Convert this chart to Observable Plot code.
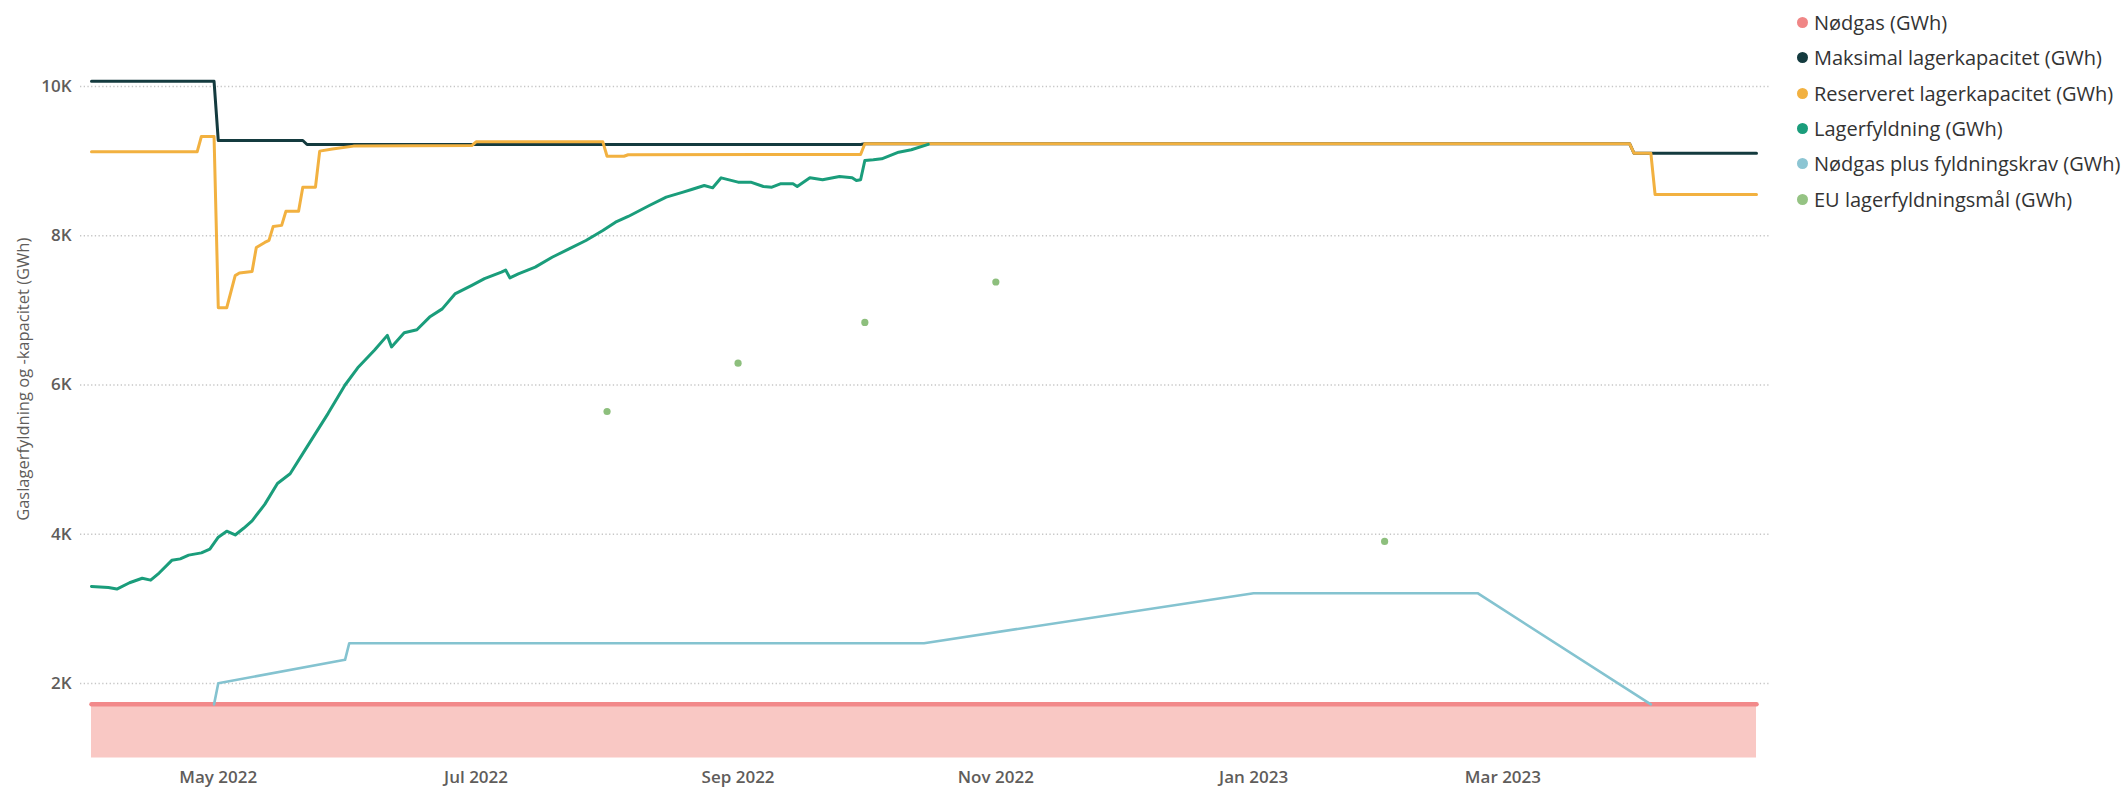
<!DOCTYPE html>
<html><head><meta charset="utf-8">
<script src="https://cdn.jsdelivr.net/npm/d3@7"></script>
<script src="https://cdn.jsdelivr.net/npm/@observablehq/plot@0.6"></script>
<style>
html,body{margin:0;padding:0;background:#fff;}
#wrap{position:relative;width:2122px;height:787px;overflow:hidden;font-family:"Open Sans",sans-serif;}
#chart{position:absolute;left:0;top:0;}
#legend{position:absolute;left:1797px;top:0;}
.item{position:absolute;left:0;height:28px;white-space:nowrap;display:flex;align-items:center;font-size:20px;color:#333;}
.dot{width:11px;height:11px;border-radius:50%;margin-right:6px;flex:none;}
</style></head><body><div id="wrap"><div id="chart"></div><div id="legend"></div></div>
<script>
// ---- data ----
const seriesNames = ["Nødgas (GWh)","Maksimal lagerkapacitet (GWh)","Reserveret lagerkapacitet (GWh)","Lagerfyldning (GWh)","Nødgas plus fyldningskrav (GWh)","EU lagerfyldningsmål (GWh)"];
const seriesColors = ["#F08686","#143B3F","#F2B140","#1A9D7B","#8CC5D3","#95C383"];

const nodgasDates = ["2022-04-01","2023-04-30"];
const nodgasValues = [1720,1720];

const maksDates = ["2022-04-01","2022-04-30","2022-05-01","2022-05-21","2022-05-22","2022-09-30","2022-10-01","2023-03-31","2023-04-01","2023-04-30"];
const maksValues = [10070,10070,9276,9276,9223,9223,9232,9232,9106,9106];

const resDates = ["2022-04-01","2022-04-26","2022-04-27","2022-04-30","2022-05-01","2022-05-03","2022-05-05","2022-05-06","2022-05-09","2022-05-10","2022-05-12","2022-05-13","2022-05-14","2022-05-16","2022-05-17","2022-05-20","2022-05-21","2022-05-24","2022-05-25","2022-05-28","2022-06-02","2022-06-30","2022-07-01","2022-07-31","2022-08-01","2022-08-05","2022-08-06","2022-09-30","2022-10-01","2023-03-31","2023-04-01","2023-04-05","2023-04-06","2023-04-30"];
const resValues = [9125,9125,9330,9330,7035,7035,7466,7500,7521,7843,7910,7937,8125,8139,8327,8327,8651,8651,9134,9161,9201,9209,9258,9258,9065,9065,9085,9089,9232,9232,9106,9106,8553,8553];

const fyldDates = ["2022-04-01","2022-04-05","2022-04-07","2022-04-10","2022-04-13","2022-04-15","2022-04-17","2022-04-20","2022-04-22","2022-04-24","2022-04-27","2022-04-29","2022-05-01","2022-05-03","2022-05-05","2022-05-07","2022-05-09","2022-05-12","2022-05-15","2022-05-18","2022-05-22","2022-05-27","2022-05-31","2022-06-03","2022-06-07","2022-06-10","2022-06-11","2022-06-14","2022-06-17","2022-06-20","2022-06-23","2022-06-26","2022-06-30","2022-07-03","2022-07-07","2022-07-08","2022-07-09","2022-07-11","2022-07-15","2022-07-19","2022-07-23","2022-07-27","2022-07-31","2022-08-03","2022-08-06","2022-08-11","2022-08-15","2022-08-19","2022-08-21","2022-08-24","2022-08-26","2022-08-28","2022-09-01","2022-09-04","2022-09-07","2022-09-09","2022-09-11","2022-09-14","2022-09-15","2022-09-18","2022-09-21","2022-09-25","2022-09-28","2022-09-29","2022-09-30","2022-10-01","2022-10-03","2022-10-05","2022-10-09","2022-10-12","2022-10-16"];
const fyldValues = [3300,3285,3265,3350,3410,3385,3480,3650,3670,3720,3750,3800,3960,4040,3990,4080,4180,4400,4680,4810,5170,5620,6000,6230,6470,6665,6510,6700,6740,6910,7020,7220,7335,7425,7512,7540,7436,7490,7580,7712,7825,7936,8070,8182,8258,8405,8517,8584,8620,8673,8642,8776,8718,8718,8660,8651,8696,8696,8660,8776,8750,8794,8776,8740,8750,9008,9018,9031,9120,9152,9225];

const kravDates = ["2022-04-30","2022-05-01","2022-05-31","2022-06-01","2022-10-15","2023-01-01","2023-02-23","2023-04-05"];
const kravValues = [1720,2004,2317,2540,2540,3210,3210,1720];

const euDates = ["2022-08-01","2022-09-01","2022-10-01","2022-11-01","2023-02-01"];
const euValues = [5645,6292,6838,7380,3903];

const yTicks = [2000,4000,6000,8000,10000];
const xTickDates = ["2022-05-01","2022-07-01","2022-09-01","2022-11-01","2023-01-01","2023-03-01"];
const xDomain = ["2022-04-01","2023-04-30"];
const yDomain = [1000,11152.4];
const yTitle = "Gaslagerfyldning og -kapacitet (GWh)";

// ---- build ----
const parse = d3.utcParse("%Y-%m-%d");
const table = (dates, values) => dates.map((d, i) => ({date: parse(d), value: values[i]}));
const nodgas = table(nodgasDates, nodgasValues);
const maks = table(maksDates, maksValues);
const res = table(resDates, resValues);
const fyld = table(fyldDates, fyldValues);
const krav = table(kravDates, kravValues);
const eu = table(euDates, euValues);

const chart = Plot.plot({
  width: 1780, height: 787,
  marginLeft: 91, marginRight: 24, marginTop: 0, marginBottom: 29.4,
  style: {fontFamily: "'Open Sans', sans-serif", fontSize: "17px", color: "#5f5d5b", background: "white", overflow: "visible"},
  x: {type: "utc", domain: xDomain.map(parse)},
  y: {domain: yDomain},
  marks: [
    Plot.ruleY(yTicks, {stroke: "#c6c6c6", strokeWidth: 1.3, strokeDasharray: "1.3,2.4", insetLeft: -11, insetRight: -14}),
    Plot.areaY(nodgas, {x: "date", y: "value", fill: "#F9C8C4", clip: true}),
    Plot.lineY(nodgas, {x: "date", y: "value", stroke: "#F2898A", strokeWidth: 4.5}),
    Plot.lineY(maks, {x: "date", y: "value", stroke: seriesColors[1], strokeWidth: 3}),
    Plot.lineY(res, {x: "date", y: "value", stroke: seriesColors[2], strokeWidth: 3}),
    Plot.lineY(fyld, {x: "date", y: "value", stroke: seriesColors[3], strokeWidth: 3}),
    Plot.lineY(krav, {x: "date", y: "value", stroke: "#84C3D0", strokeWidth: 2.6}),
    Plot.dot(eu, {x: "date", y: "value", r: 3.6, fill: "#8DBF7D"}),
    Plot.axisY(yTicks, {tickSize: 0, tickPadding: 20, tickFormat: d => d / 1000 + "K", label: null, fontWeight: 600}),
    Plot.axisX(xTickDates.map(parse), {tickSize: 0, tickPadding: 12.5, tickFormat: d3.utcFormat("%b %Y"), label: null, fontWeight: 600}),
    Plot.text([yTitle], {text: d => d, frameAnchor: "left", textAnchor: "middle", dx: -68, rotate: -90, fontSize: 16.5, fill: "#5f5d5b"})
  ]
});
document.getElementById("chart").appendChild(chart);

const legendCenters = [22, 57, 93, 128, 163, 199];
const legend = document.getElementById("legend");
seriesNames.forEach((name, i) => {
  const item = document.createElement("div");
  item.className = "item";
  item.style.top = (legendCenters[i] - 14) + "px";
  const dot = document.createElement("span");
  dot.className = "dot";
  dot.style.background = seriesColors[i];
  const label = document.createElement("span");
  label.textContent = name;
  item.appendChild(dot); item.appendChild(label);
  legend.appendChild(item);
});
</script></body></html>
